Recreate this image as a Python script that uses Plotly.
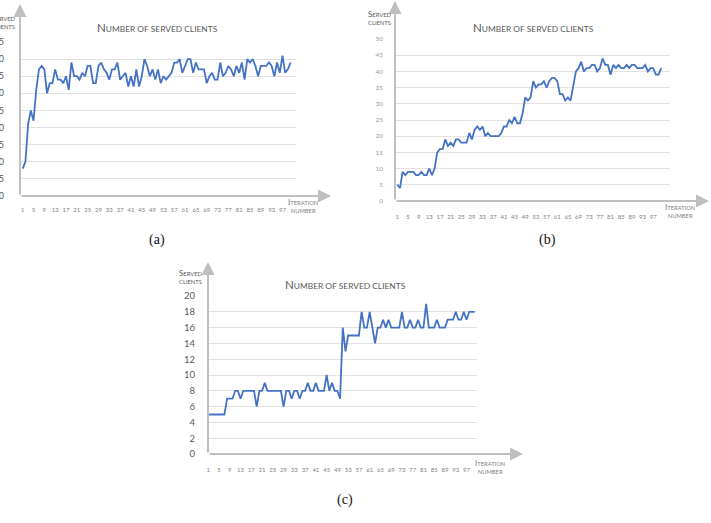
import plotly.graph_objects as go

W, H = 711, 523

# ---------------- data ----------------
iterations = list(range(1, 101))
tick_vals = list(range(1, 100, 4))
tick_text = [str(v) for v in tick_vals]

served_a = [8, 10, 21, 25, 22, 31, 37, 38, 37, 30,
            33, 33, 37, 34, 34, 33, 35, 31, 39, 35,
            35, 34, 36, 35, 38, 38, 33, 33, 38, 39,
            37, 36, 34, 37, 37, 39, 34, 35, 36, 32,
            35, 32, 37, 32, 35, 40, 38, 35, 37, 34,
            37, 33, 35, 34, 35, 36, 39, 39, 40, 36,
            38, 40, 40, 36, 39, 37, 37, 37, 33, 35,
            36, 34, 34, 39, 35, 36, 38, 37, 35, 38,
            36, 39, 34, 40, 39, 40, 38, 35, 38, 38,
            38, 39, 38, 35, 39, 36, 41, 36, 37, 39]

served_b = [5, 4, 9, 8, 9, 9, 9, 8, 8, 9,
            8, 8, 10, 8, 10, 15, 16, 16, 19, 17,
            18, 17, 19, 19, 18, 18, 18, 21, 19, 22,
            23, 22, 23, 20, 21, 20, 20, 20, 20, 21,
            23, 23, 25, 24, 26, 24, 24, 27, 32, 31,
            32, 37, 35, 36, 36, 37, 35, 37, 38, 38,
            37, 33, 33, 31, 32, 31, 35, 40, 41, 43,
            40, 41, 41, 42, 42, 40, 41, 44, 42, 42,
            39, 42, 41, 42, 41, 41, 42, 41, 42, 42,
            41, 41, 41, 42, 40, 41, 41, 39, 39, 41]

served_c = [5, 5, 5, 5, 5, 5, 5, 7, 7, 7,
            8, 8, 7, 8, 8, 8, 8, 8, 6, 8,
            8, 9, 8, 8, 8, 8, 8, 8, 6, 8,
            8, 7, 8, 8, 7, 8, 8, 9, 8, 8,
            9, 8, 8, 8, 10, 8, 9, 8, 8, 7,
            16, 13, 15, 15, 15, 15, 15, 18, 16, 16,
            18, 16, 14, 16, 16, 17, 16, 17, 16, 16,
            16, 16, 18, 16, 16, 17, 16, 16, 17, 16,
            16, 19, 16, 16, 16, 17, 16, 16, 16, 17,
            17, 17, 18, 17, 17, 18, 17, 18, 18, 18]

y_ticks_a = list(range(0, 50, 5))
y_ticks_b = list(range(0, 55, 5))
y_ticks_c = list(range(0, 22, 2))

# ---------------- styling ----------------
LINE = "#4472C4"
GRID = "#e2e2e2"
AXIS = "#bfbfbf"
TXT = "#595959"
FONT = "Lato"


def fx(px):
    return px / W


def fy(py):
    return 1 - py / H


panels = [
    dict(s="", data=served_a, yt=y_ticks_a, yr=[0, 45], xr=[0, 102],
         xd=(20, 296), yd=(196, 42), xtip=331, ytip=4,
         ytf=dict(size=9, color=TXT), ysoff=15, xsoff=9,
         title=(157, 28), served=(17, 22, "right"), iteration=(303, 205), cap=("(a)", 157, 240)),
    dict(s="2", data=served_b, yt=y_ticks_b, yr=[0, 50], xr=[0.14, 103.3],
         xd=(395, 670), yd=(201, 39), xtip=709, ytip=1,
         ytf=dict(size=6.5, color="#9a9a9a"), ysoff=11, xsoff=11,
         title=(533, 28), served=(379, 17.5, "center"), iteration=(680, 211), cap=("(b)", 547, 240)),
    dict(s="3", data=served_c, yt=y_ticks_c, yr=[0, 20], xr=[0.9, 100.9],
         xd=(208, 477), yd=(454, 296), xtip=523, ytip=262,
         ytf=dict(size=9.5, color=TXT), ysoff=12, xsoff=11,
         title=(345, 284), served=(191, 276, "center"), iteration=(490, 466), cap=("(c)", 345, 500)),
]

fig = go.Figure()
annotations = []
layout_axes = {}

for p in panels:
    s = p["s"]
    xa, ya = "x" + s, "y" + s
    fig.add_trace(go.Scatter(x=iterations, y=p["data"], xaxis=xa, yaxis=ya,
                             mode="lines", line=dict(color=LINE, width=1.8),
                             showlegend=False, hoverinfo="skip"))
    layout_axes["xaxis" + s] = dict(
        domain=[fx(p["xd"][0]), fx(p["xd"][1])], range=p["xr"], anchor=ya,
        tickvals=tick_vals, ticktext=tick_text, showgrid=False, zeroline=False,
        showline=False, ticks="", tickfont=dict(family=FONT, size=6, color="#7f7f7f"),
        ticklabelstandoff=p["xsoff"], automargin=False, fixedrange=True)
    layout_axes["yaxis" + s] = dict(
        domain=[fy(p["yd"][0]), fy(p["yd"][1])], range=p["yr"], anchor=xa,
        tickvals=p["yt"], showgrid=True, gridcolor=GRID, gridwidth=1,
        zeroline=False, showline=False, ticks="",
        tickfont=dict(family=FONT, **p["ytf"]), ticklabelstandoff=p["ysoff"],
        automargin=False, fixedrange=True)

    x_dom = "x" + s + " domain"
    y_dom = "y" + s + " domain"
    dom_w = p["xd"][1] - p["xd"][0]
    dom_h = p["yd"][0] - p["yd"][1]
    # axis arrows
    annotations.append(dict(xref=x_dom, yref=y_dom, axref=x_dom, ayref=y_dom,
                            x=0, y=1 + (p["yd"][1] - p["ytip"]) / dom_h, ax=0, ay=0,
                            text="", showarrow=True, arrowhead=2, arrowsize=1.3,
                            arrowwidth=2, arrowcolor=AXIS, standoff=0, startstandoff=0))
    annotations.append(dict(xref=x_dom, yref=y_dom, axref=x_dom, ayref=y_dom,
                            x=1 + (p["xtip"] - p["xd"][1]) / dom_w, y=0, ax=0, ay=0,
                            text="", showarrow=True, arrowhead=2, arrowsize=1.3,
                            arrowwidth=2, arrowcolor=AXIS, standoff=0, startstandoff=0))
    # title (small caps)
    tx, ty = p["title"]
    annotations.append(dict(xref="paper", yref="paper", x=fx(tx), y=fy(ty),
                            xanchor="center", yanchor="middle", showarrow=False,
                            text="<span style='font-size:11.5px'>N</span>UMBER OF SERVED CLIENTS",
                            font=dict(family=FONT, size=8.4, color=TXT)))
    # y axis label (small caps)
    sx, sy, al = p["served"]
    annotations.append(dict(xref="paper", yref="paper", x=fx(sx), y=fy(sy),
                            xanchor=al, yanchor="middle", showarrow=False, align=al,
                            text="<span style='font-size:8px'>S</span>ERVED<br>CLIENTS",
                            font=dict(family=FONT, size=5.8, color=TXT)))
    # x axis label (small caps)
    ix, iy = p["iteration"]
    annotations.append(dict(xref="paper", yref="paper", x=fx(ix), y=fy(iy),
                            xanchor="center", yanchor="middle", showarrow=False, align="center",
                            text="<span style='font-size:8px'>I</span>TERATION<br>NUMBER",
                            font=dict(family=FONT, size=5.8, color="#7f7f7f")))
    # caption
    c, cx, cy = p["cap"]
    annotations.append(dict(xref="paper", yref="paper", x=fx(cx), y=fy(cy),
                            xanchor="center", yanchor="middle", showarrow=False,
                            text=c, font=dict(family="Liberation Serif", size=14, color="#111111")))

fig.update_layout(
    width=W, height=H, margin=dict(l=0, r=0, t=0, b=0),
    paper_bgcolor="white", plot_bgcolor="white",
    annotations=annotations, showlegend=False,
    **layout_axes,
)

fig.write_html("out.html")
